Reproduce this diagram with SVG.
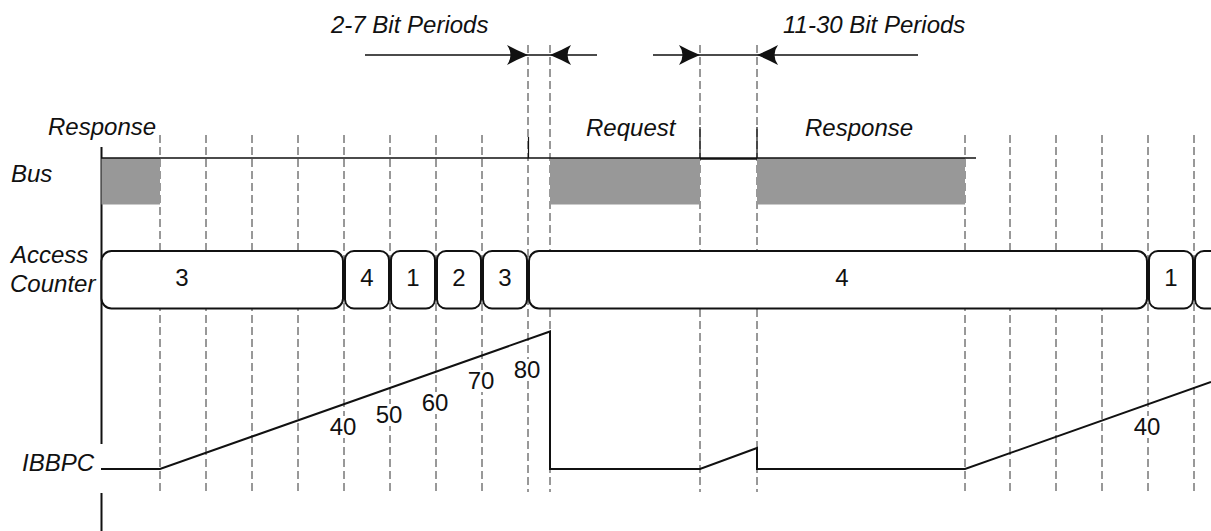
<svg xmlns="http://www.w3.org/2000/svg" width="1211" height="531" viewBox="0 0 1211 531">
<style>
  .lbl{font-family:"Liberation Sans",Arial,sans-serif;font-size:24px;font-style:italic;fill:#111}
  .num{font-family:"Liberation Sans",Arial,sans-serif;font-size:24px;fill:#111;text-anchor:middle}
  .dash{stroke:#333;stroke-width:1;stroke-dasharray:8 4;fill:none}
  .solid{stroke:#111;stroke-width:1.2;fill:none}
  .box{fill:#fff;stroke:#111;stroke-width:2}
  .busfill{fill:#989898;stroke:none}
  .wave{fill:none;stroke:#111;stroke-width:2}
  .ahead{fill:#111;stroke:none}
</style>
<defs>
  <path id="headR" d="M0,0 Q-12,-5 -21,-10 Q-14,0 -21,10 Q-12,5 0,0 Z"/>
  <path id="headL" d="M0,0 Q12,-5 21,-10 Q14,0 21,10 Q12,5 0,0 Z"/>
</defs>
<rect width="1211" height="531" fill="#fff"/>

<g id="grid">
  <path class="dash" d="M160,135V492M206,135V492M252,135V492M298,135V492M344,135V492M390,135V492M436,135V492M482,135V492M965,135V492M1010,135V492M1056,135V492M1102,135V492M1148,135V492M1194,135V492"/>
  <path class="dash" d="M528,45V492M550,45V492M700,45V492M757,45V492"/>
  <path class="solid" d="M700,127V158M757,127V158M528.5,137V158"/>
</g>

<g id="axis">
  <path d="M101.5,147V444M101.5,493V531" stroke="#111" stroke-width="2" fill="none"/>
</g>

<g id="labels">
  <text class="lbl" x="11" y="182">Bus</text>
  <text class="lbl" x="11" y="263">Access</text>
  <text class="lbl" x="10" y="292">Counter</text>
  <text class="lbl" x="22" y="471">IBBPC</text>
  <text class="lbl" x="48" y="135">Response</text>
  <text class="lbl" x="586" y="136">Request</text>
  <text class="lbl" x="805" y="136">Response</text>
  <text class="lbl" x="331" y="33">2-7 Bit Periods</text>
  <text class="lbl" x="783" y="33">11-30 Bit Periods</text>
</g>

<g id="bus">
  <rect class="busfill" x="101.5" y="158" width="58.5" height="46.5"/>
  <rect class="busfill" x="550" y="158" width="150" height="46.5"/>
  <rect class="busfill" x="757" y="158" width="208" height="46.5"/>
  <path d="M101,158H700M757,158H976" stroke="#111" stroke-width="1.6" fill="none"/>
  <path d="M700,158.5H757" stroke="#111" stroke-width="2.4" fill="none"/>
</g>

<g id="access-counter">
  <g id="ac-3a"><rect class="box" x="101.5" y="251" width="241.5" height="57.5" rx="10"/><text class="num" x="182" y="286">3</text></g>
  <g id="ac-4a"><rect class="box" x="345" y="251" width="44" height="57.5" rx="9"/><text class="num" x="367" y="286">4</text></g>
  <g id="ac-1a"><rect class="box" x="391" y="251" width="44" height="57.5" rx="9"/><text class="num" x="413" y="286">1</text></g>
  <g id="ac-2a"><rect class="box" x="437" y="251" width="44" height="57.5" rx="9"/><text class="num" x="459" y="286">2</text></g>
  <g id="ac-3b"><rect class="box" x="483" y="251" width="44" height="57.5" rx="9"/><text class="num" x="505" y="286">3</text></g>
  <g id="ac-4b"><rect class="box" x="529" y="251" width="618" height="57.5" rx="10"/><text class="num" x="842" y="286">4</text></g>
  <g id="ac-1b"><rect class="box" x="1149" y="251" width="44" height="57.5" rx="9"/><text class="num" x="1171" y="286">1</text></g>
  <g id="ac-next"><rect class="box" x="1195" y="251" width="40" height="57.5" rx="9"/></g>
</g>

<g id="ibbpc">
  <g id="ibbpc-values" >
    <rect x="330" y="416" width="27" height="22" fill="#fff"/>
    <rect x="376" y="404" width="27" height="22" fill="#fff"/>
    <rect x="422" y="392" width="27" height="22" fill="#fff"/>
    <rect x="468" y="370" width="27" height="22" fill="#fff"/>
    <rect x="514" y="359" width="27" height="22" fill="#fff"/>
    <rect x="1134" y="416" width="27" height="22" fill="#fff"/>
    <text class="num" x="343" y="435">40</text>
    <text class="num" x="389" y="423">50</text>
    <text class="num" x="435" y="411">60</text>
    <text class="num" x="481" y="389">70</text>
    <text class="num" x="527" y="378">80</text>
    <text class="num" x="1147" y="435">40</text>
  </g>
  <path class="wave" d="M101,469H160L550,331.5V469H700L757,448V469H965L1211,382"/>
</g>

<g id="connectors">
  <path d="M365,55H597M653,55H918" stroke="#111" stroke-width="1.6" fill="none"/>
  <use href="#headR" x="528" y="55" class="ahead"/>
  <use href="#headL" x="550" y="55" class="ahead"/>
  <use href="#headR" x="700" y="55" class="ahead"/>
  <use href="#headL" x="757" y="55" class="ahead"/>
</g>
</svg>
